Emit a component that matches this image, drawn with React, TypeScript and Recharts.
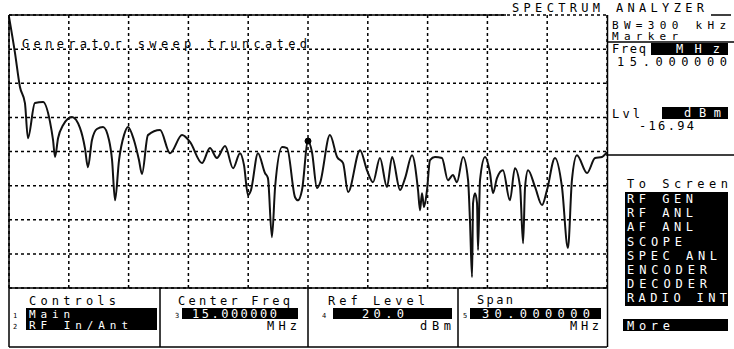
import { CartesianGrid, Line, LineChart, ReferenceDot, XAxis, YAxis } from 'recharts'

// trace: frequency (MHz) and level (dBm)
const FREQ_MHZ = [
  0, 0.3, 0.55, 0.8, 0.95, 1.3, 1.71, 2.06, 2.21, 2.31,
  2.46, 2.71, 3.16, 3.56, 3.81, 3.96, 4.16, 4.41, 4.72, 5.02,
  5.17, 5.32, 5.52, 5.77, 5.97, 6.27, 6.52, 6.67, 6.97, 7.58,
  8.08, 8.68, 9.08, 9.68, 10.08, 10.43, 10.84, 11.24, 11.59, 11.79,
  11.99, 12.14, 12.49, 12.84, 12.99, 13.19, 13.35, 13.7, 13.95, 14.35,
  14.5, 14.7, 15.0, 15.2, 15.45, 15.6, 16.1, 16.46, 16.76, 17.01,
  17.61, 17.96, 18.26, 18.61, 18.96, 19.22, 19.62, 19.87, 20.22, 20.52,
  20.62, 20.72, 20.82, 20.97, 21.12, 21.37, 21.72, 22.02, 22.27, 22.47,
  22.78, 23.03, 23.13, 23.23, 23.28, 23.38, 23.48, 23.53, 23.63, 23.88,
  24.13, 24.28, 24.48, 24.78, 25.13, 25.38, 25.64, 25.79, 25.89, 26.04,
  26.39, 26.74, 26.99, 27.39, 27.74, 28.04, 28.24, 28.49, 29.0, 29.4,
  29.75, 30.0,
]

const LEVEL_DBM = [
  19.5, 8.9, -1.1, -5.8, -16.1, -5.8, -5.5, -11.4, -16.7, -21.6,
  -16.1, -12.3, -9.9, -13.1, -19.0, -24.6, -16.7, -13.4, -12.8, -16.7,
  -22.5, -34.3, -22.5, -15.2, -12.8, -16.7, -22.5, -26.6, -15.2, -13.7,
  -20.5, -15.2, -17.2, -23.4, -19.0, -21.9, -18.4, -24.9, -20.5, -24.0,
  -32.8, -31.3, -20.5, -26.3, -27.8, -45.1, -30.4, -18.7, -19.0, -33.4,
  -34.3, -31.3, -16.94, -20.2, -30.7, -29.3, -15.2, -21.6, -23.4, -31.9,
  -19.6, -25.5, -29.0, -21.9, -30.4, -21.6, -31.3, -27.8, -21.1, -31.3,
  -37.2, -32.2, -36.3, -31.3, -22.5, -21.6, -21.9, -28.4, -26.9, -29.0,
  -21.6, -28.4, -41.0, -56.8, -35.1, -32.2, -35.1, -48.9, -28.4, -21.6,
  -26.3, -32.2, -27.8, -25.5, -34.3, -24.9, -30.4, -46.9, -30.4, -25.5,
  -30.4, -35.7, -31.3, -21.9, -30.4, -48.3, -28.4, -21.1, -26.3, -21.9,
  -21.6, -20.2,
]

const FREQ_TICKS = [0, 3, 6, 9, 12, 15, 18, 21, 24, 27, 30]
const LEVEL_TICKS = [-60, -50, -40, -30, -20, -10, 0, 10, 20]

const MARKER_FREQ = 15.0
const MARKER_LEVEL = -16.94

const SCREENS = ['RF GEN', 'RF ANL', 'AF ANL', 'SCOPE', 'SPEC ANL', 'ENCODER', 'DECODER', 'RADIO INT']
const SCREEN_WIDTHS = [66, 66, 66, 55, 90, 80, 80, 100]

const data = FREQ_MHZ.map((f, i) => ({ freq: f, level: LEVEL_DBM[i] }))

const FONT = '"DejaVu Sans Mono", monospace'

function Txt({ x, y, w, children, fill = '#000', size = 12 }: any) {
  return (
    <text x={x} y={y} fontSize={size} fill={fill} fontFamily={FONT}
      textLength={w} lengthAdjust="spacing">
      {children}
    </text>
  )
}

export default function App() {
  return (
    <div style={{ position: 'absolute', left: 0, top: 0, width: 734, height: 349, background: '#fff' }}>
      <LineChart width={734} height={349} data={data}
        margin={{ top: 15, right: 127, bottom: 61, left: 9 }}>
        <CartesianGrid stroke="#000" strokeWidth={1.5} strokeDasharray="3 3" />
        <XAxis type="number" dataKey="freq" domain={[0, 30]} ticks={FREQ_TICKS} hide />
        <YAxis type="number" domain={[-60, 20]} ticks={LEVEL_TICKS} hide />
        <Line type="monotoneX" dataKey="level" stroke="#111" strokeWidth={2}
          dot={false} isAnimationActive={false} />
        <ReferenceDot x={MARKER_FREQ} y={MARKER_LEVEL} r={3} fill="#000" stroke="#000" />
      </LineChart>

      <svg width={734} height={349} style={{ position: 'absolute', left: 0, top: 0, pointerEvents: 'none' }}>
        {/* frame */}
        <g stroke="#000" strokeWidth={1.5}>
          <line x1={9} y1={15} x2={506} y2={15} />
          <line x1={711} y1={15} x2={731} y2={15} />
          <line x1={9} y1={15} x2={9} y2={347} />
          <line x1={607.5} y1={15} x2={607.5} y2={347} />
          <line x1={9} y1={288} x2={607} y2={288} />
          <line x1={9} y1={347} x2={607} y2={347} />
          <line x1={160} y1={288} x2={160} y2={347} />
          <line x1={308} y1={288} x2={308} y2={347} />
          <line x1={458} y1={288} x2={458} y2={347} />
          <line x1={608} y1={42} x2={734} y2={42} />
          <line x1={608} y1={155} x2={734} y2={155} />
        </g>

        <Txt x={22} y={48} w={285}>Generator sweep truncated</Txt>
        <Txt x={512} y={12} w={192}>SPECTRUM ANALYZER</Txt>

        {/* marker panel */}
        <Txt x={612} y={28.5} w={114} size={11}>BW=300 kHz</Txt>
        <Txt x={612} y={40} w={66} size={11}>Marker</Txt>
        <Txt x={612} y={53} w={34}>Freq</Txt>
        <rect x={651} y={43} width={77} height={12} fill="#000" />
        <Txt x={676} y={53} w={44} fill="#fff">MHz</Txt>
        <Txt x={617} y={66} w={110}>15.000000</Txt>
        <Txt x={612} y={118} w={28}>Lvl</Txt>
        <rect x={662} y={107} width={66} height={12} fill="#000" />
        <Txt x={684} y={117} w={37} fill="#fff">dBm</Txt>
        <Txt x={639} y={130} w={55}>-16.94</Txt>

        {/* screen menu */}
        <Txt x={627} y={188} w={101}>To Screen</Txt>
        <rect x={625} y={192} width={103} height={114} fill="#000" />
        {SCREENS.map((s, i) => (
          <Txt key={s} x={627} y={203 + i * 14.2} w={SCREEN_WIDTHS[i]} fill="#fff">{s}</Txt>
        ))}
        <rect x={623} y={319} width={105} height={12} fill="#000" />
        <Txt x={627} y={330} w={43} fill="#fff">More</Txt>

        {/* bottom controls */}
        <Txt x={29} y={305} w={87}>Controls</Txt>
        <Txt x={13} y={318} size={7}>1</Txt>
        <Txt x={13} y={329} size={7}>2</Txt>
        <rect x={26} y={308} width={131} height={22} fill="#000" />
        <Txt x={29} y={317.5} w={41} size={11}>
          <tspan fill="#fff">Main</tspan>
        </Txt>
        <text x={29} y={329} fontSize={11} fill="#fff" fontFamily={FONT} textLength={99} lengthAdjust="spacing">
          RF In/<tspan textDecoration="underline">Ant</tspan>
        </text>

        <Txt x={178} y={305} w={112}>Center Freq</Txt>
        <Txt x={175} y={318} size={7}>3</Txt>
        <rect x={182} y={308} width={116} height={11} fill="#000" />
        <Txt x={192} y={318} w={85} fill="#fff">15.000000</Txt>
        <Txt x={267} y={330} w={30}>MHz</Txt>

        <Txt x={328} y={305} w={97}>Ref Level</Txt>
        <Txt x={322} y={318} size={7}>4</Txt>
        <rect x={333} y={308} width={119} height={11} fill="#000" />
        <Txt x={362} y={318} w={42} fill="#fff">20.0</Txt>
        <Txt x={420} y={330} w={31}>dBm</Txt>

        <Txt x={477} y={304} w={36}>Span</Txt>
        <Txt x={463} y={318} size={7}>5</Txt>
        <rect x={470} y={308} width={131} height={11} fill="#000" />
        <Txt x={482} y={318} w={108} fill="#fff">30.000000</Txt>
        <Txt x={570} y={330} w={29}>MHz</Txt>
      </svg>
    </div>
  )
}
